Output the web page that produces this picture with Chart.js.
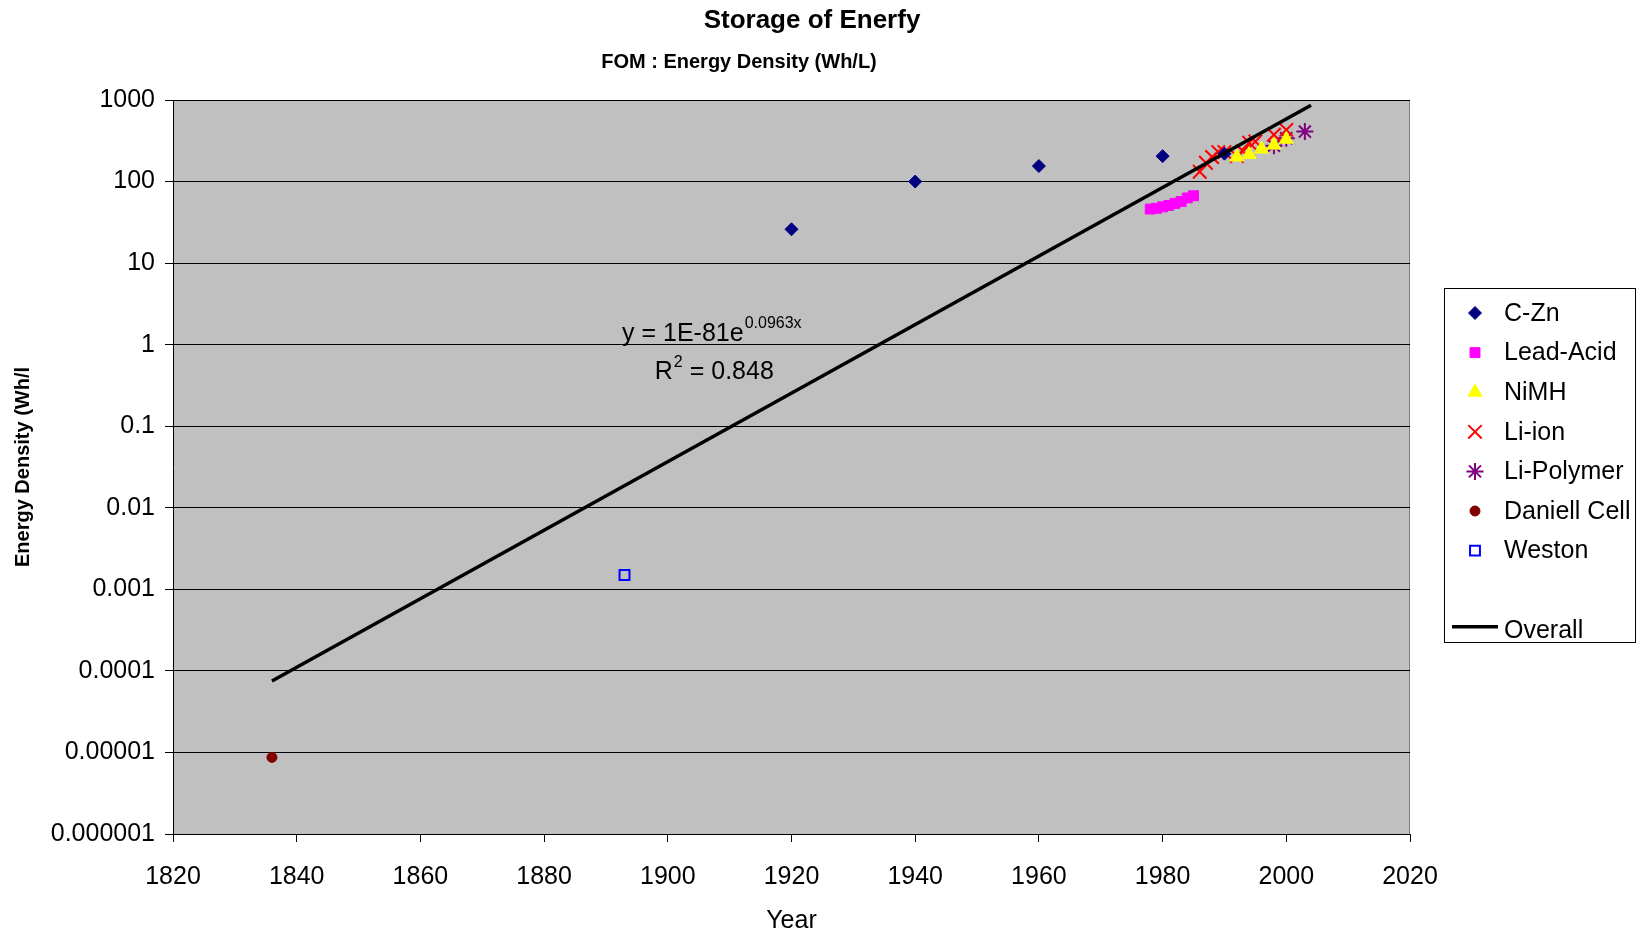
<!DOCTYPE html>
<html lang="en">
<head>
<meta charset="UTF-8">
<title>Storage of Enerfy</title>
<style>
  html, body { margin: 0; padding: 0; background: #fff; }
  #chart { display: block; }
</style>
<script src="https://cdn.jsdelivr.net/npm/chart.js"></script>
</head>
<body>
<canvas id="chart" width="1643" height="931"></canvas>
<script>
// values
const czYears = [1920, 1940, 1960, 1980, 1990];
const czValues = [26, 100, 155, 205, 220];

const leadYears = [1978, 1979, 1980, 1981, 1982, 1983, 1984, 1985];
const leadValues = [46, 47, 49, 51, 54, 57, 63, 67];

const nimhYears = [1992, 1994, 1996, 1998, 2000];
const nimhValues = [200, 215, 250, 280, 330];

const liIonYears = [1986, 1987, 1988, 1989, 1990, 1992, 1993, 1994, 1995, 1998, 2000];
const liIonValues = [132, 170, 200, 230, 230, 205, 235, 300, 310, 375, 430];

const liPolyYears = [1998, 2000, 2003];
const liPolyValues = [275, 340, 410];

const daniellYears = [1836];
const daniellValues = [0.0000087];

const westonYears = [1893];
const westonValues = [0.0015];

// exponential fit, drawn as a straight line on the log axis
const overallYears = [1836, 2004];
const overallValues = [0.000075, 860];

const yTickValues = [0.000001, 0.00001, 0.0001, 0.001, 0.01, 0.1, 1, 10, 100, 1000];
const yTickLabels = ['0.000001', '0.00001', '0.0001', '0.001', '0.01', '0.1', '1', '10', '100', '1000'];

const FONT = '"Liberation Sans", Arial, sans-serif';

function pts(xs, ys) {
    return xs.map((x, i) => ({ x: x, y: ys[i] }));
}

// grey plot area with thin border
const plotFrame = {
    id: 'plotFrame',
    beforeDraw(chart) {
        const { ctx, chartArea: a } = chart;
        ctx.save();
        ctx.fillStyle = '#c0c0c0';
        ctx.fillRect(a.left, a.top, a.width, a.height);
        ctx.strokeStyle = '#808080';
        ctx.lineWidth = 1;
        ctx.beginPath();
        ctx.moveTo(a.left, a.top + 0.5);
        ctx.lineTo(a.right - 0.5, a.top + 0.5);
        ctx.lineTo(a.right - 0.5, a.bottom);
        ctx.stroke();
        ctx.restore();
    }
};

// title + subtitle sit where Excel put them, not centred together
const titles = {
    id: 'titles',
    afterDraw(chart) {
        const ctx = chart.ctx;
        ctx.save();
        ctx.fillStyle = '#000';
        ctx.textAlign = 'center';
        ctx.textBaseline = 'alphabetic';
        ctx.font = 'bold 26px ' + FONT;
        ctx.fillText('Storage of Enerfy', 812, 28);
        ctx.font = 'bold 20px ' + FONT;
        ctx.fillText('FOM : Energy Density (Wh/L)', 739, 68);
        ctx.restore();
    }
};

// trendline equation text
const trendLabel = {
    id: 'trendLabel',
    afterDatasetsDraw(chart) {
        const { ctx, scales } = chart;
        ctx.save();
        ctx.fillStyle = '#000';
        ctx.textAlign = 'left';
        ctx.textBaseline = 'alphabetic';

        let x = scales.x.getPixelForValue(1892.6);
        let y = scales.y.getPixelForValue(1.16) + 2;
        ctx.font = '25px ' + FONT;
        ctx.fillText('y = 1E-81e', x, y);
        x += ctx.measureText('y = 1E-81e').width + 1;
        ctx.font = '16px ' + FONT;
        ctx.fillText('0.0963x', x, y - 13);

        x = scales.x.getPixelForValue(1897.9);
        y = scales.y.getPixelForValue(0.387) + 1;
        ctx.font = '25px ' + FONT;
        ctx.fillText('R', x, y);
        x += ctx.measureText('R').width + 1;
        ctx.font = '16px ' + FONT;
        ctx.fillText('2', x, y - 12);
        x += ctx.measureText('2').width;
        ctx.font = '25px ' + FONT;
        ctx.fillText(' = 0.848', x, y);
        ctx.restore();
    }
};

// boxed legend on the right, with a gap before the fit line
const sideLegend = {
    id: 'sideLegend',
    afterDraw(chart) {
        const ctx = chart.ctx;
        const box = { x: 1444.5, y: 288.5, w: 191, h: 354 };
        const rowY = 313, rowStep = 39.6, markX = 1475, textX = 1504;
        ctx.save();
        ctx.strokeStyle = '#000';
        ctx.lineWidth = 1;
        ctx.strokeRect(box.x, box.y, box.w, box.h);
        ctx.font = '25px ' + FONT;
        ctx.textAlign = 'left';
        ctx.textBaseline = 'middle';

        let row = 0;
        chart.data.datasets.forEach(ds => {
            if (ds.showLine) return;
            const y = rowY + row * rowStep;
            ctx.fillStyle = ds.pointBackgroundColor;
            ctx.strokeStyle = ds.pointBorderColor;
            ctx.lineWidth = ds.pointBorderWidth;
            Chart.helpers.drawPoint(ctx, {
                pointStyle: ds.pointStyle,
                radius: ds.pointRadius,
                borderWidth: ds.pointBorderWidth,
                rotation: 0
            }, markX, y);
            ctx.fillStyle = '#000';
            ctx.fillText(ds.label, textX, y + 1);
            row++;
        });

        const overall = chart.data.datasets.find(ds => ds.showLine);
        const y = rowY + (row + 1) * rowStep;
        ctx.strokeStyle = overall.borderColor;
        ctx.lineWidth = overall.borderWidth;
        ctx.beginPath();
        ctx.moveTo(1452, y - 3);
        ctx.lineTo(1498, y - 3);
        ctx.stroke();
        ctx.fillStyle = '#000';
        ctx.fillText(overall.label, textX, y + 1);
        ctx.restore();
    }
};

function pointSet(label, xs, ys, style, radius, fill, stroke, width) {
    return {
        label: label,
        data: pts(xs, ys),
        pointStyle: style,
        pointRadius: radius,
        pointHoverRadius: radius,
        pointBackgroundColor: fill,
        pointBorderColor: stroke,
        pointBorderWidth: width,
        borderColor: stroke,
        backgroundColor: fill,
        showLine: false
    };
}

const datasets = [
    pointSet('C-Zn', czYears, czValues, 'rectRot', 6.5, '#000080', '#000080', 1),
    pointSet('Lead-Acid', leadYears, leadValues, 'rect', 7, '#ff00ff', '#ff00ff', 1),
    pointSet('NiMH', nimhYears, nimhValues, 'triangle', 8, '#ffff00', '#ffff00', 1),
    pointSet('Li-ion', liIonYears, liIonValues, 'crossRot', 9.5, '#ff0000', '#ff0000', 2),
    pointSet('Li-Polymer', liPolyYears, liPolyValues, 'star', 8.5, '#800080', '#800080', 2),
    pointSet('Daniell Cell', daniellYears, daniellValues, 'circle', 5, '#800000', '#800000', 1),
    pointSet('Weston', westonYears, westonValues, 'rect', 7, 'rgba(0,0,0,0)', '#0000ff', 2),
    {
        label: 'Overall',
        data: pts(overallYears, overallValues),
        showLine: true,
        borderColor: '#000',
        borderWidth: 3.5,
        pointRadius: 0,
        pointHoverRadius: 0,
        fill: false,
        order: -1
    }
];

Chart.defaults.font.family = FONT;
Chart.defaults.color = '#000';

new Chart(document.getElementById('chart').getContext('2d'), {
    type: 'scatter',
    data: { datasets: datasets },
    options: {
        responsive: false,
        animation: false,
        devicePixelRatio: 1,
        layout: { padding: { top: 100, right: 233, bottom: 0, left: 0 } },
        plugins: {
            legend: { display: false },
            tooltip: { enabled: false }
        },
        scales: {
            x: {
                type: 'linear',
                min: 1820,
                max: 2020,
                afterFit(scale) {
                    scale.height = 97;
                    scale.paddingLeft = 0;
                    scale.paddingRight = 0;
                },
                ticks: {
                    stepSize: 20,
                    padding: 20,
                    font: { size: 25 },
                    color: '#000',
                    callback: v => String(v)
                },
                grid: {
                    drawOnChartArea: false,
                    tickLength: 8,
                    color: '#000'
                },
                border: { color: '#000', width: 1 },
                title: {
                    display: true,
                    text: 'Year',
                    font: { size: 25, lineHeight: 0.8 },
                    color: '#000',
                    padding: { top: 2, bottom: 0 }
                }
            },
            y: {
                type: 'logarithmic',
                min: 0.000001,
                max: 1000,
                afterFit(scale) {
                    scale.width = 173;
                    scale.paddingTop = 0;
                    scale.paddingBottom = 0;
                },
                afterBuildTicks(scale) {
                    scale.ticks = yTickValues.map(v => ({ value: v }));
                },
                ticks: {
                    autoSkip: false,
                    padding: 10,
                    font: { size: 25 },
                    color: '#000',
                    callback: (v, i) => yTickLabels[i]
                },
                grid: {
                    color: '#000',
                    lineWidth: 1,
                    tickLength: 8
                },
                border: { color: '#000', width: 1 },
                title: {
                    display: true,
                    text: 'Energy Density (Wh/l',
                    font: { size: 20, weight: 'bold' },
                    color: '#000',
                    padding: { top: 11, bottom: 0 }
                }
            }
        }
    },
    plugins: [plotFrame, trendLabel, titles, sideLegend]
});
</script>
</body>
</html>
